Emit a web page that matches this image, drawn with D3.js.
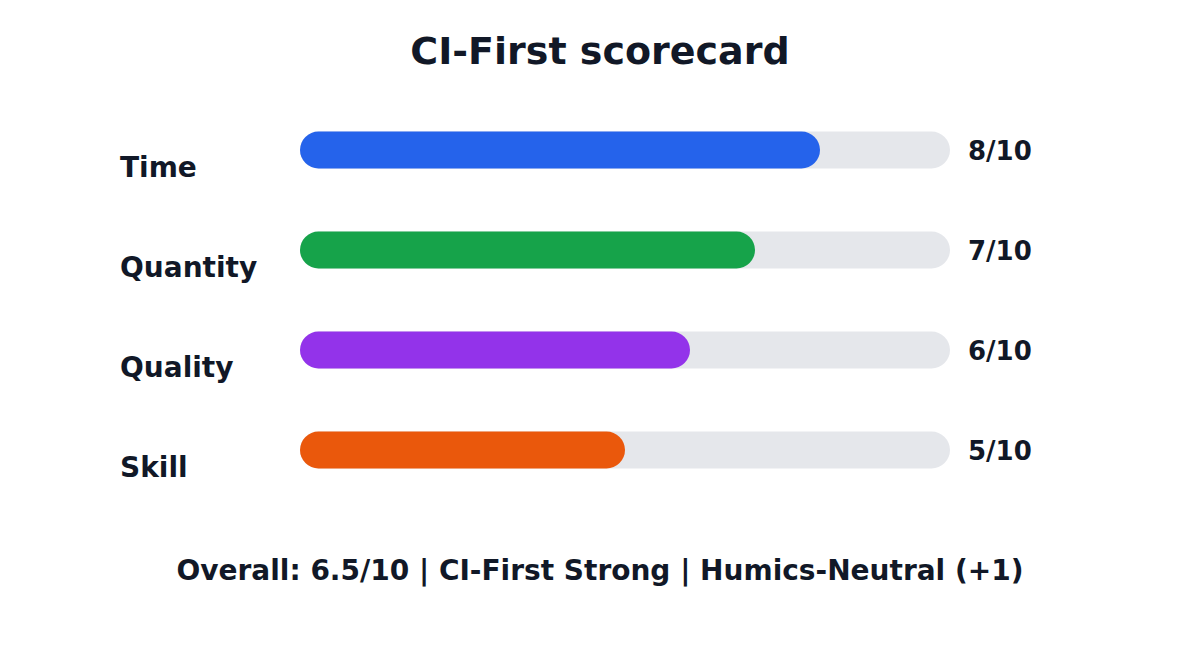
<!DOCTYPE html>
<html><head><meta charset="utf-8">
<script src="https://cdn.jsdelivr.net/npm/d3@7"></script>
<style>body{margin:0;background:#fff}svg{display:block}</style>
</head><body><svg id="c" width="1200" height="650"></svg>
<script>
const categories = ["Time", "Quantity", "Quality", "Skill"];
const scores = [8, 7, 6, 5];
const maxScore = 10;
const colors = ["#2563eb", "#16a34a", "#9333ea", "#ea580c"];
const title = "CI-First scorecard";
const footer = "Overall: 6.5/10 | CI-First Strong | Humics-Neutral (+1)";

const svg = d3.select("#c");
const font = "'DejaVu Sans', sans-serif";
const ink = "#111827";
const x = d3.scaleLinear().domain([0, maxScore]).range([300, 950]);
const y = d3.scaleBand().domain(categories).range([100, 500]).paddingInner(0.63).paddingOuter(0.315);
const h = y.bandwidth();

svg.append("text").attr("x", 600).attr("y", 64).attr("text-anchor", "middle")
  .attr("font-family", font).attr("font-weight", "bold").attr("font-size", 38).attr("fill", ink).text(title);

const g = svg.selectAll("g.row").data(categories).join("g").attr("class", "row");
g.append("rect").attr("x", x(0)).attr("y", d => y(d)).attr("width", x(maxScore) - x(0)).attr("height", h)
  .attr("rx", h / 2).attr("fill", "#e5e7eb");
g.append("rect").attr("x", x(0)).attr("y", d => y(d)).attr("width", (d, i) => x(scores[i]) - x(0)).attr("height", h)
  .attr("rx", h / 2).attr("fill", (d, i) => colors[i]);
g.append("text").attr("x", 120).attr("y", d => y(d) + h / 2 + 26.5)
  .attr("font-family", font).attr("font-weight", "bold").attr("font-size", 28).attr("fill", ink).text(d => d);
g.append("text").attr("x", 968).attr("y", d => y(d) + h / 2 + 9.5)
  .attr("font-family", font).attr("font-weight", "bold").attr("font-size", 26).attr("fill", ink)
  .text((d, i) => scores[i] + "/" + maxScore);

svg.append("text").attr("x", 600).attr("y", 580).attr("text-anchor", "middle")
  .attr("font-family", font).attr("font-weight", "bold").attr("font-size", 28).attr("fill", ink).text(footer);
</script></body></html>
